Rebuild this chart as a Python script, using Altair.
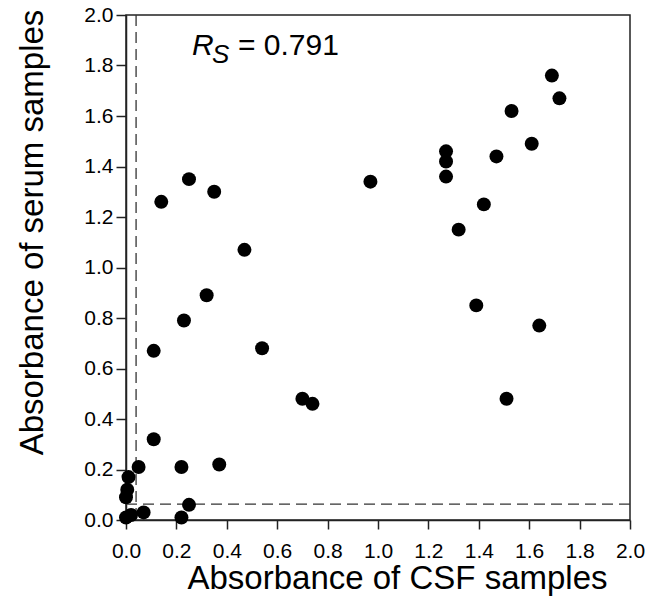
import altair as alt
import pandas as pd

# Absorbance values
csf = [1.69, 1.72, 1.53, 1.61, 1.47, 1.27, 1.27, 1.27, 1.42, 1.32,
       1.39, 1.64, 1.51, 0.14, 0.25, 0.35, 0.47, 0.32, 0.23, 0.11,
       0.54, 0.97, 0.70, 0.74, 0.11, 0.05, 0.22, 0.37, 0.01, 0.005,
       0.0, 0.0, 0.02, 0.07, 0.22, 0.25]
serum = [1.76, 1.67, 1.62, 1.49, 1.44, 1.46, 1.42, 1.36, 1.25, 1.15,
         0.85, 0.77, 0.48, 1.26, 1.35, 1.30, 1.07, 0.89, 0.79, 0.67,
         0.68, 1.34, 0.48, 0.46, 0.32, 0.21, 0.21, 0.22, 0.17, 0.12,
         0.09, 0.01, 0.02, 0.03, 0.01, 0.06]

cutoff_csf = [0.04]
cutoff_serum = [0.063]
ticks = [0.0, 0.2, 0.4, 0.6, 0.8, 1.0, 1.2, 1.4, 1.6, 1.8, 2.0]

FONT = "Liberation Sans"

df = pd.DataFrame({"csf": csf, "serum": serum})
vdf = pd.DataFrame({"x": cutoff_csf})
hdf = pd.DataFrame({"y": cutoff_serum})

xscale = alt.Scale(domain=[0, 2], nice=False, zero=False)
yscale = alt.Scale(domain=[0, 2], nice=False, zero=False)

common = dict(
    values=ticks, format=".1f", grid=False, labelFontSize=21,
    titleFontSize=33, titleFontWeight="normal",
    titleBaseline="alphabetic", titleAlign="center",
    domainColor="#222", tickColor="#222", domainWidth=1.5, tickWidth=1.5,
    labelColor="black", titleColor="black", labelFont=FONT, titleFont=FONT,
    labelFlush=False, labelOverlap=False, labelBound=False,
)

xaxis = alt.Axis(
    title="Absorbance of CSF samples", tickSize=9, labelPadding=11,
    titleX=271, titleY=68, **common,
)
yaxis = alt.Axis(
    title="Absorbance of serum samples", tickSize=10, labelPadding=3,
    titleX=-84, titleY=217, titleAngle=-90, **common,
)

points = alt.Chart(df).mark_point(
    filled=True, shape="circle", size=195, color="black", opacity=1
).encode(
    x=alt.X("csf:Q", scale=xscale, axis=xaxis),
    y=alt.Y("serum:Q", scale=yscale, axis=yaxis),
)

vline = alt.Chart(vdf).mark_rule(
    color="#333", strokeDash=[11, 6], strokeWidth=1.3
).encode(x=alt.X("x:Q", scale=xscale))

hline = alt.Chart(hdf).mark_rule(
    color="#333", strokeDash=[11, 6], strokeWidth=1.3
).encode(y=alt.Y("y:Q", scale=yscale))

rs_df = pd.DataFrame({"t": ["R"]})
r_text = alt.Chart(rs_df).mark_text(
    font=FONT, fontSize=30, fontStyle="italic", align="left",
    baseline="alphabetic", color="black"
).encode(text="t:N", x=alt.value(66), y=alt.value(40))

s_df = pd.DataFrame({"t": ["S"]})
s_text = alt.Chart(s_df).mark_text(
    font=FONT, fontSize=26, fontStyle="italic", align="left",
    baseline="alphabetic", color="black"
).encode(text="t:N", x=alt.value(86), y=alt.value(48))

v_df = pd.DataFrame({"t": ["= 0.791"]})
v_text = alt.Chart(v_df).mark_text(
    font=FONT, fontSize=30, align="left", baseline="alphabetic", color="black"
).encode(text="t:N", x=alt.value(112), y=alt.value(40))

chart = alt.layer(vline, hline, points, r_text, s_text, v_text).properties(
    width=504, height=505,
    autosize=alt.AutoSizeParams(type="none"),
    padding={"left": 118, "top": 7, "right": 20, "bottom": 80},
    background="white",
).configure_view(stroke="#222", strokeWidth=1.5)

chart.save("out.html", embed_options={"renderer": "svg", "actions": False})
